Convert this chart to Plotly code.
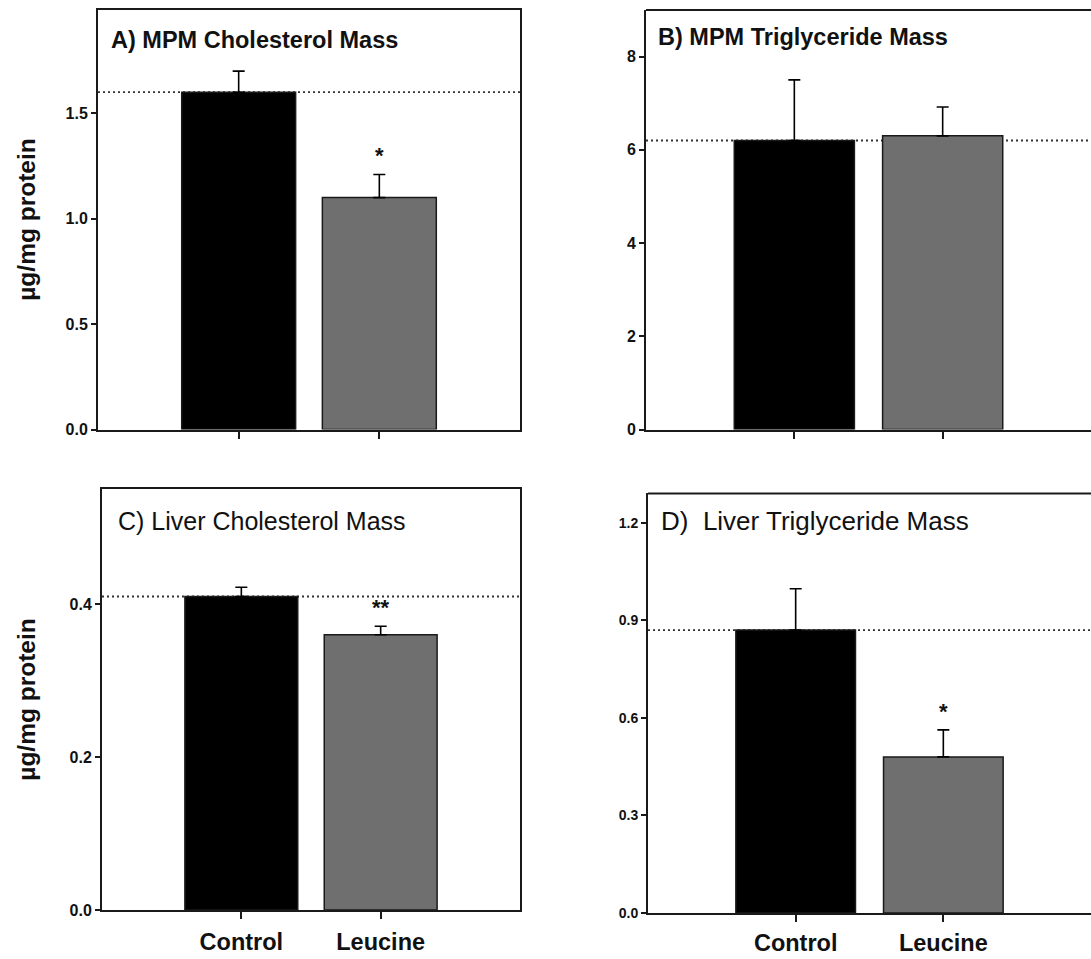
import plotly.graph_objects as go

# ---- data ----
categories = ["Control", "Leucine"]
panel_titles = ["A) MPM Cholesterol Mass", "B) MPM Triglyceride Mass",
                "C) Liver Cholesterol Mass", "D)  Liver Triglyceride Mass"]
mpm_chol = [1.60, 1.10]
mpm_chol_err = [0.10, 0.11]
mpm_tg = [6.2, 6.3]
mpm_tg_err = [1.3, 0.62]
liver_chol = [0.41, 0.36]
liver_chol_err = [0.012, 0.011]
liver_tg = [0.87, 0.48]
liver_tg_err = [0.127, 0.083]
sig_marks = [["", "*"], ["", ""], ["", "**"], ["", "*"]]
y_ranges = [[0, 1.99], [0, 9.0], [0, 0.55], [0, 1.29]]
y_ticks = [[0.0, 0.5, 1.0, 1.5], [0, 2, 4, 6, 8], [0.0, 0.2, 0.4], [0.0, 0.3, 0.6, 0.9, 1.2]]
y_tickformat = [".1f", "d", ".1f", ".1f"]
y_label = "µg/mg protein"

values = [mpm_chol, mpm_tg, liver_chol, liver_tg]
errors = [mpm_chol_err, mpm_tg_err, liver_chol_err, liver_tg_err]

W, H = 1091, 959
SY = 959 / 967  # observed vertical scale of the captured page
# panel boxes in screen pixels: left, right, top, bottom
boxes = [(98, 520, 10, 430), (646, 1091, 10, 430), (102, 520, 490, 911), (648, 1091, 494, 914)]
# title positions (screen px): left x, cap-center y
title_pos = [(109, 40), (656, 37), (116, 522), (659, 522)]
title_size = [23.5, 23.5, 25, 26]
tick_size = [16, 16, 16, 14]
label_standoff = [3, 3, 3, 1]


def px_x(sx):
    return sx / W


def px_y(sy):
    return 1 - (sy / SY) / H


FONT = "Liberation Sans, Arial, sans-serif"
bar_colors = ["#000000", "#6f6f6f"]
line_col = "#1a1a1a"

fig = go.Figure()
xpos = [0, 1]

for i in range(4):
    ax = "" if i == 0 else str(i + 1)
    xa, ya = "x" + ax, "y" + ax
    fig.add_trace(go.Bar(
        x=xpos, y=values[i], width=0.81,
        marker=dict(color=bar_colors, line=dict(color=line_col, width=1.5)),
        error_y=dict(type="data", array=errors[i], arrayminus=[0, 0], symmetric=False,
                     color="#000000", thickness=1.6, width=6),
        xaxis=xa, yaxis=ya, showlegend=False))
    l, r, t, b = boxes[i]
    dom_x = [px_x(l), min(px_x(r), 1.0)]
    dom_y = [px_y(b), min(px_y(t), 1.0)]
    bottom_row = i >= 2
    right_col = i % 2 == 1
    xaxis = dict(domain=dom_x, range=[-1.0, 2.0], anchor=ya,
                 tickvals=xpos, ticktext=categories if bottom_row else ["", ""],
                 ticks="outside", ticklen=7, tickwidth=1.5, tickcolor=line_col,
                 showline=True, linecolor=line_col, linewidth=2,
                 mirror=not right_col, showgrid=False, zeroline=False,
                 ticklabelstandoff=label_standoff[i],
                 tickfont=dict(family=FONT, size=23.5, color="#111", weight="bold"))
    yaxis = dict(domain=dom_y, range=y_ranges[i], anchor=xa,
                 tickvals=y_ticks[i], tickformat=y_tickformat[i],
                 ticks="outside", ticklen=5, tickwidth=1.5, tickcolor=line_col,
                 showline=True, linecolor=line_col, linewidth=2,
                 mirror=not right_col, showgrid=False, zeroline=False,
                 tickfont=dict(family=FONT, size=tick_size[i], color="#111", weight="bold"))
    fig.update_layout(**{("xaxis" + ax): xaxis, ("yaxis" + ax): yaxis})

    # top border for right column panels (right border is cut off by the image edge)
    if right_col:
        fig.add_shape(type="line", xref=xa + " domain", yref=ya + " domain",
                      x0=0, x1=1, y0=1, y1=1, line=dict(color=line_col, width=2))

    # dotted reference line at control value
    fig.add_shape(type="line", xref=xa + " domain", yref=ya,
                  x0=0, x1=1, y0=values[i][0], y1=values[i][0],
                  line=dict(color="#333333", width=1.8, dash="2px,3px"), layer="below")

    # panel title
    tx, ty = title_pos[i]
    fig.add_annotation(text=panel_titles[i], xref="paper", yref="paper",
                       x=px_x(tx), y=px_y(ty), xanchor="left", yanchor="middle", showarrow=False,
                       font=dict(family=FONT, size=title_size[i], color="#111",
                                 weight="bold" if i < 2 else "normal"))

    # significance marks
    for j in range(2):
        if sig_marks[i][j]:
            fig.add_annotation(text=sig_marks[i][j], xref=xa, yref=ya,
                               x=xpos[j], y=values[i][j] + errors[i][j],
                               xanchor="center", yanchor="bottom", yshift=4, showarrow=False,
                               font=dict(family=FONT, size=22, color="#111", weight="bold"))

    # y-axis label for left column
    if not right_col:
        fig.add_annotation(text=y_label, xref="paper", yref=ya + " domain",
                           x=px_x(27), y=0.5, xanchor="center", yanchor="middle",
                           textangle=-90, showarrow=False,
                           font=dict(family=FONT, size=24.5, color="#111", weight="bold"))

fig.update_layout(width=W, height=H, margin=dict(l=0, r=0, t=0, b=0),
                  paper_bgcolor="white", plot_bgcolor="white", bargap=0.2)

# remove the default page margin so the figure sits exactly in the window
fig.write_html("out.html", config={"displayModeBar": False},
               post_script="document.body.style.margin='0px';document.body.style.overflow='hidden';")
